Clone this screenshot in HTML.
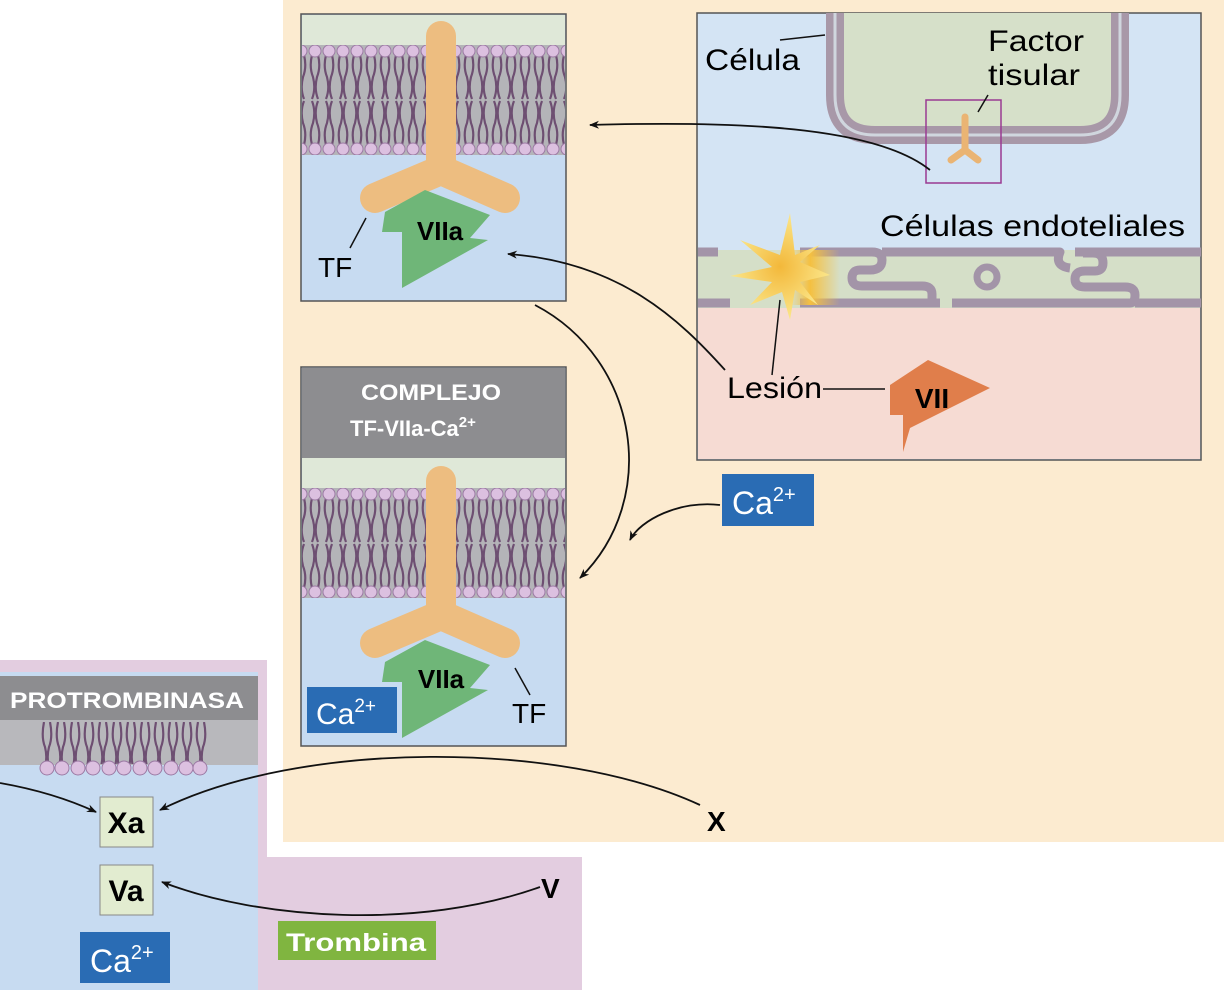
<!DOCTYPE html>
<html><head><meta charset="utf-8"><style>
body{margin:0;background:#fff}
svg{display:block}
text{font-family:"Liberation Sans",Arial,sans-serif}
</style></head><body>
<svg width="1224" height="990" viewBox="0 0 1224 990" xmlns="http://www.w3.org/2000/svg">
<defs>
<pattern id="lipA" x="0" y="45" width="14" height="110" patternUnits="userSpaceOnUse">
  <path d="M4 10 q-3 12 1 22 q3 12 -1 22 M10 10 q3 12 -1 22 q-3 12 1 22 M4 100 q-3 -12 1 -22 q3 -12 -1 -22 M10 100 q3 -12 -1 -22 q-3 -12 1 -22" stroke="#6e4f72" stroke-width="2.2" fill="none"/>
  <circle cx="7" cy="6" r="6" fill="#dcc0e0" stroke="#9c7aa4" stroke-width="1"/>
  <circle cx="7" cy="104" r="6" fill="#dcc0e0" stroke="#9c7aa4" stroke-width="1"/>
</pattern>
<pattern id="lipB" x="0" y="488" width="14" height="110" patternUnits="userSpaceOnUse">
  <path d="M4 10 q-3 12 1 22 q3 12 -1 22 M10 10 q3 12 -1 22 q-3 12 1 22 M4 100 q-3 -12 1 -22 q3 -12 -1 -22 M10 100 q3 -12 -1 -22 q-3 -12 1 -22" stroke="#6e4f72" stroke-width="2.2" fill="none"/>
  <circle cx="7" cy="6" r="6" fill="#dcc0e0" stroke="#9c7aa4" stroke-width="1"/>
  <circle cx="7" cy="104" r="6" fill="#dcc0e0" stroke="#9c7aa4" stroke-width="1"/>
</pattern>
<pattern id="lip2" x="40" y="722" width="14" height="60" patternUnits="userSpaceOnUse">
  <path d="M4 0 q-3 15 1 25 q3 12 -1 22 M10 0 q3 15 -1 25 q-3 12 1 22" stroke="#6e4f72" stroke-width="2.2" fill="none"/>
</pattern>
<radialGradient id="burst" cx="0.5" cy="0.5" r="0.5"><stop offset="0" stop-color="#f3b83a"/><stop offset="1" stop-color="#fbe68a"/></radialGradient>
<linearGradient id="glow" x1="0" x2="1"><stop offset="0" stop-color="#f5c040" stop-opacity="0"/><stop offset="0.4" stop-color="#f5c040"/><stop offset="1" stop-color="#f5c040" stop-opacity="0"/></linearGradient>
<marker id="ah" markerWidth="10" markerHeight="8" refX="9" refY="4" orient="auto" markerUnits="userSpaceOnUse"><path d="M0 0 L10 4 L0 8 L3 4 Z" fill="#111"/></marker>
</defs>

<rect x="283" y="0" width="941" height="842" fill="#fcebd0"/>
<rect x="0" y="660" width="267" height="330" fill="#e3cde0"/>
<rect x="258" y="857" width="324" height="133" fill="#e3cde0"/>

<!-- Panel 1 -->
<rect x="301" y="14" width="265" height="287" fill="#c7dbf1" stroke="#555" stroke-width="1.5"/>
<rect x="302" y="15" width="263" height="30" fill="#dfe8d8"/>
<rect x="302" y="45" width="263" height="110" fill="#b4b4b8"/>
<rect x="302" y="45" width="263" height="110" fill="url(#lipA)"/>
<!-- Panel 2 -->
<rect x="301" y="367" width="265" height="379" fill="#c7dbf1" stroke="#555" stroke-width="1.5"/>
<rect x="302" y="368" width="263" height="90" fill="#8d8d90"/>
<text x="431" y="400" font-size="22" font-weight="bold" fill="#fff" text-anchor="middle" textLength="140" lengthAdjust="spacingAndGlyphs">COMPLEJO</text>
<text x="350" y="436" font-size="22" font-weight="bold" fill="#fff">TF-VIIa-Ca<tspan font-size="15" dy="-9">2+</tspan></text>
<rect x="302" y="458" width="263" height="30" fill="#dfe8d8"/>
<rect x="302" y="488" width="263" height="110" fill="#b4b4b8"/>
<rect x="302" y="488" width="263" height="110" fill="url(#lipB)"/>

<g stroke="#edbd80" stroke-width="30" stroke-linecap="round" stroke-linejoin="round" fill="none">
  <path d="M441 36 L441 170 M375 198 L441 170 L505 198"/>
  <path d="M441 481 L441 615 M375 643 L441 615 L505 643"/>
</g>
<path d="M385 212 L425 190 L490 215 L470 238 L488 240 L402 288 L402 232 L382 232 Z" fill="#6fb678"/>
<text x="440" y="240" font-size="26" font-weight="bold" text-anchor="middle">VIIa</text>
<path d="M385 662 L425 640 L490 665 L470 688 L488 690 L402 738 L402 682 L382 682 Z" fill="#6fb678"/>
<text x="441" y="688" font-size="26" font-weight="bold" text-anchor="middle">VIIa</text>
<text x="318" y="277" font-size="28">TF</text>
<line x1="350" y1="248" x2="366" y2="218" stroke="#111" stroke-width="1.5"/>
<text x="512" y="723" font-size="28">TF</text>
<line x1="515" y1="668" x2="530" y2="695" stroke="#111" stroke-width="1.5"/>
<rect x="307" y="687" width="90" height="46" fill="#2a6cb4"/>
<text x="316" y="724" font-size="30" fill="#fff">Ca<tspan font-size="19" dy="-12">2+</tspan></text>

<!-- Right panel -->
<rect x="697" y="13" width="504" height="447" fill="#d4e4f4" stroke="#555" stroke-width="1.5"/>
<rect x="698" y="308" width="502" height="151" fill="#f6dbd3"/>
<rect x="698" y="250" width="502" height="58" fill="#d5dfc8"/>
<g fill="none" stroke="#a394a8" stroke-width="9" stroke-linejoin="round">
  <path d="M698 252 H718"/>
  <path d="M800 252 H872 q10 0 10 8 q0 10 -12 10 h-10 q-8 0 -8 8 q0 8 10 8 h60 q10 0 10 8 v6 M952 303 H1130 q5 0 5 -8 q0 -8 -10 -8 h-40 q-10 0 -10 -8 q0 -8 10 -8 h10 q8 0 8 -8 q0 -10 -10 -10 h-10 M1075 252 H1201"/>
  <path d="M882 252 H1060 q-6 14 10 16"/>
  <path d="M698 303 H730 M800 303 H940"/>
  <path d="M1135 303 H1201"/>
</g>
<circle cx="987" cy="277" r="10" fill="none" stroke="#a394a8" stroke-width="7"/>
<rect x="790" y="250" width="50" height="55" fill="url(#glow)"/>
<path d="M790 213 L795 255 L820 245 L800 262 L830 275 L800 282 L818 305 L795 290 L790 320 L782 292 L750 305 L772 282 L730 276 L772 267 L740 240 L780 255 Z" fill="url(#burst)"/>
<path d="M835 13 V95 q0 40 40 40 H1080 q40 0 40 -40 V13" fill="#d6e0c9" stroke="#a898a8" stroke-width="18"/>
<path d="M835 13 V95 q0 40 40 40 H1080 q40 0 40 -40 V13" fill="none" stroke="#d0d6de" stroke-width="3"/>
<rect x="926" y="100" width="75" height="83" fill="none" stroke="#9a3a92" stroke-width="1.5"/>
<g stroke="#eab473" stroke-width="7" stroke-linecap="round" fill="none"><path d="M965 117 V150 M951 160 L965 150 L978 160"/></g>
<text x="705" y="70" font-size="30" textLength="95" lengthAdjust="spacingAndGlyphs">Célula</text>
<line x1="780" y1="40" x2="825" y2="35" stroke="#111" stroke-width="1.5"/>
<text x="988" y="51" font-size="30" textLength="96" lengthAdjust="spacingAndGlyphs">Factor</text>
<text x="988" y="85" font-size="30" textLength="92" lengthAdjust="spacingAndGlyphs">tisular</text>
<line x1="978" y1="112" x2="988" y2="95" stroke="#111" stroke-width="1.5"/>
<text x="880" y="236" font-size="30" textLength="305" lengthAdjust="spacingAndGlyphs">Células endoteliales</text>
<text x="727" y="398" font-size="30" textLength="95" lengthAdjust="spacingAndGlyphs">Lesión</text>
<line x1="823" y1="389" x2="885" y2="389" stroke="#111" stroke-width="1.5"/>
<line x1="772" y1="375" x2="780" y2="300" stroke="#111" stroke-width="1.5"/>
<path d="M890 385 L928 360 L990 388 L910 428 L903 452 L903 415 L890 415 Z" fill="#e07e4b"/>
<text x="932" y="408" font-size="28" font-weight="bold" text-anchor="middle">VII</text>

<rect x="722" y="474" width="92" height="52" fill="#2a6cb4"/>
<text x="732" y="514" font-size="32" fill="#fff">Ca<tspan font-size="20" dy="-13">2+</tspan></text>

<!-- Protrombinasa -->
<rect x="0" y="672" width="258" height="318" fill="#c7dbf1"/>
<rect x="0" y="676" width="258" height="44" fill="#8d8d90"/>
<rect x="0" y="720" width="258" height="45" fill="#b8b8bc"/>
<text x="10" y="708" font-size="22" font-weight="bold" fill="#fff" textLength="234" lengthAdjust="spacingAndGlyphs">PROTROMBINASA</text>
<rect x="40" y="722" width="168" height="42" fill="url(#lip2)"/>
<g fill="#dcc0e0" stroke="#9c7aa4" stroke-width="1">
<circle cx="47" cy="768" r="7"/><circle cx="62" cy="768" r="7"/><circle cx="78" cy="768" r="7"/><circle cx="93" cy="768" r="7"/><circle cx="109" cy="768" r="7"/><circle cx="124" cy="768" r="7"/><circle cx="140" cy="768" r="7"/><circle cx="155" cy="768" r="7"/><circle cx="171" cy="768" r="7"/><circle cx="186" cy="768" r="7"/><circle cx="200" cy="768" r="7"/>
</g>
<rect x="100" y="797" width="53" height="50" fill="#e2ecd0" stroke="#888"/>
<text x="126" y="833" font-size="30" font-weight="bold" text-anchor="middle">Xa</text>
<rect x="100" y="865" width="53" height="50" fill="#e2ecd0" stroke="#888"/>
<text x="126" y="901" font-size="30" font-weight="bold" text-anchor="middle">Va</text>
<rect x="80" y="932" width="90" height="51" fill="#2a6cb4"/>
<text x="90" y="972" font-size="32" fill="#fff">Ca<tspan font-size="20" dy="-13">2+</tspan></text>
<rect x="278" y="921" width="158" height="39" fill="#80b540"/>
<text x="286" y="951" font-size="25" font-weight="bold" fill="#fff" textLength="140" lengthAdjust="spacingAndGlyphs">Trombina</text>
<text x="707" y="831" font-size="28" font-weight="bold">X</text>
<text x="541" y="898" font-size="28" font-weight="bold">V</text>

<g fill="none" stroke="#111" stroke-width="1.8" marker-end="url(#ah)">
  <path d="M930 170 C880 130 760 120 590 125"/>
  <path d="M725 370 C680 320 620 262 508 254"/>
  <path d="M535 305 C640 360 660 500 580 578"/>
  <path d="M720 505 C680 500 640 520 630 540"/>
  <path d="M700 805 C560 740 300 740 160 810"/>
  <path d="M540 887 C420 930 260 920 162 882"/>
  <path d="M0 783 C40 790 70 800 96 812"/>
</g>
</svg>
</body></html>
